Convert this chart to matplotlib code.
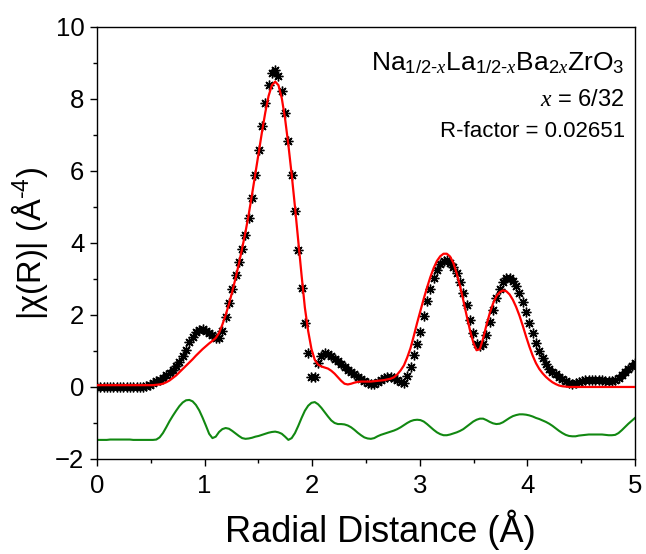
import numpy as np
import matplotlib
matplotlib.use("Agg")
import matplotlib.pyplot as plt
from matplotlib.ticker import MultipleLocator

plt.rcParams['font.family'] = ['Liberation Sans', 'DejaVu Sans']
plt.rcParams['mathtext.fontset'] = 'custom'
plt.rcParams['mathtext.rm'] = 'Liberation Sans'
plt.rcParams['mathtext.it'] = 'Liberation Serif:italic'
plt.rcParams['mathtext.bf'] = 'Liberation Sans:bold'

# radial grid (0 .. 5 Angstrom, 164 samples)
n_points = 164
r_min, r_max = 0.0, 5.0

data_vals = [
    0.00, 0.00, 0.00, 0.00, 0.00, 0.00, 0.00, 0.00, 0.00, 0.00,
    0.00, 0.00, 0.00, 0.00, 0.01, 0.03, 0.06, 0.11, 0.16, 0.20,
    0.26, 0.32, 0.40, 0.48, 0.57, 0.68, 0.86, 1.03, 1.24, 1.40,
    1.52, 1.58, 1.60, 1.56, 1.50, 1.43, 1.36, 1.35, 1.55, 1.93,
    2.32, 2.71, 3.12, 3.47, 3.82, 4.22, 4.70, 5.25, 5.90, 6.58,
    7.25, 7.88, 8.38, 8.72, 8.79, 8.63, 8.22, 7.62, 6.82, 5.88,
    4.88, 3.80, 2.76, 1.79, 0.95, 0.29, 0.27, 0.66, 0.86, 0.95,
    0.92, 0.86, 0.78, 0.71, 0.63, 0.55, 0.48, 0.41, 0.35, 0.29,
    0.23, 0.17, 0.12, 0.07, 0.08, 0.14, 0.20, 0.25, 0.28, 0.27,
    0.24, 0.20, 0.14, 0.12, 0.30, 0.56, 0.88, 1.18, 1.52, 1.98,
    2.39, 2.72, 3.02, 3.25, 3.42, 3.51, 3.53, 3.44, 3.34, 3.17,
    2.92, 2.62, 2.27, 1.87, 1.50, 1.20, 1.13, 1.20, 1.43, 1.80,
    2.15, 2.47, 2.72, 2.92, 3.02, 3.02, 2.94, 2.80, 2.62, 2.36,
    2.07, 1.78, 1.50, 1.23, 1.01, 0.81, 0.64, 0.50, 0.41, 0.35,
    0.29, 0.23, 0.17, 0.12, 0.09, 0.10, 0.13, 0.16, 0.18, 0.19,
    0.19, 0.19, 0.19, 0.18, 0.17, 0.16, 0.16, 0.18, 0.24, 0.32,
    0.42, 0.50, 0.58, 0.66,
]

fit_vals = [
    0.05, 0.05, 0.05, 0.05, 0.05, 0.05, 0.05, 0.05, 0.05, 0.05,
    0.05, 0.05, 0.05, 0.05, 0.05, 0.05, 0.05, 0.05, 0.06, 0.07,
    0.09, 0.13, 0.18, 0.25, 0.32, 0.41, 0.50, 0.59, 0.68, 0.77,
    0.87, 0.96, 1.05, 1.13, 1.21, 1.28, 1.36, 1.50, 1.73, 2.00,
    2.30, 2.65, 3.02, 3.42, 3.85, 4.30, 4.80, 5.35, 5.92, 6.50,
    7.08, 7.62, 8.08, 8.38, 8.48, 8.38, 8.02, 7.45, 6.72, 5.90,
    5.00, 4.05, 3.10, 2.20, 1.55, 1.05, 0.75, 0.62, 0.57, 0.54,
    0.51, 0.45, 0.37, 0.27, 0.17, 0.09, 0.07, 0.09, 0.12, 0.14,
    0.15, 0.15, 0.15, 0.15, 0.16, 0.17, 0.18, 0.19, 0.21, 0.23,
    0.27, 0.35, 0.46, 0.60, 0.82, 1.08, 1.42, 1.78, 2.12, 2.45,
    2.76, 3.05, 3.30, 3.50, 3.63, 3.70, 3.70, 3.62, 3.44, 3.15,
    2.80, 2.40, 1.98, 1.58, 1.24, 1.02, 1.05, 1.35, 1.72, 2.05,
    2.32, 2.52, 2.63, 2.68, 2.66, 2.57, 2.42, 2.22, 1.98, 1.70,
    1.40, 1.12, 0.87, 0.66, 0.50, 0.38, 0.28, 0.20, 0.13, 0.08,
    0.04, 0.02, 0.01, 0.00, 0.00, 0.00, 0.00, 0.00, 0.00, 0.00,
    0.00, 0.00, 0.00, 0.00, 0.00, 0.00, 0.00, 0.00, 0.00, 0.00,
    0.00, 0.00, 0.00, 0.00,
]

residual_vals = [
    -1.47, -1.47, -1.47, -1.47, -1.46, -1.46, -1.46, -1.46, -1.46, -1.46,
    -1.46, -1.47, -1.47, -1.47, -1.47, -1.47, -1.47, -1.47, -1.46, -1.40,
    -1.28, -1.12, -0.95, -0.80, -0.66, -0.53, -0.43, -0.37, -0.36, -0.40,
    -0.50, -0.65, -0.85, -1.07, -1.30, -1.42, -1.38, -1.25, -1.17, -1.14,
    -1.16, -1.22, -1.29, -1.36, -1.42, -1.44, -1.43, -1.41, -1.38, -1.36,
    -1.33, -1.30, -1.27, -1.25, -1.24, -1.26, -1.30, -1.38, -1.47, -1.42,
    -1.28, -1.08, -0.86, -0.66, -0.52, -0.44, -0.42, -0.48, -0.58, -0.70,
    -0.82, -0.93, -1.00, -1.03, -1.03, -1.04, -1.07, -1.12, -1.19, -1.27,
    -1.34, -1.40, -1.43, -1.44, -1.42, -1.37, -1.33, -1.30, -1.27, -1.24,
    -1.21, -1.17, -1.12, -1.06, -1.00, -0.95, -0.92, -0.91, -0.92, -0.96,
    -1.03, -1.11, -1.19, -1.26, -1.31, -1.34, -1.34, -1.32, -1.29, -1.26,
    -1.22, -1.17, -1.10, -1.03, -0.96, -0.91, -0.88, -0.88, -0.92, -0.97,
    -1.01, -1.03, -1.02, -0.98, -0.92, -0.86, -0.81, -0.78, -0.76, -0.76,
    -0.77, -0.79, -0.82, -0.86, -0.89, -0.93, -0.97, -1.02, -1.08, -1.15,
    -1.22, -1.28, -1.33, -1.36, -1.37, -1.37, -1.35, -1.34, -1.33, -1.32,
    -1.32, -1.32, -1.32, -1.32, -1.33, -1.34, -1.34, -1.33, -1.28, -1.20,
    -1.11, -1.02, -0.94, -0.86,
]

x_ticks = [0, 1, 2, 3, 4, 5]
y_ticks = [-2, 0, 2, 4, 6, 8, 10]

formula_text = r"Na$_{1/2\text{-}\mathit{x}}$La$_{1/2\text{-}\mathit{x}}$Ba$_{2\mathit{x}}$ZrO$_{3}$"
x_text = r"$\mathit{x}$ = 6/32"
rfactor_text = "R-factor = 0.02651"

R = np.linspace(r_min, r_max, n_points)

fig = plt.figure(figsize=(6.46, 5.54), dpi=100)
ax = fig.add_axes([0.150, 0.1715, 0.833, 0.780])

ax.plot(R, residual_vals, color='#118811', lw=1.5, zorder=2)
ax.plot(R, data_vals, linestyle='none', marker=(8, 2, 0), markersize=7,
        markeredgewidth=1.0, color='black', zorder=3)
ax.plot(R, fit_vals, color='#ff0000', lw=1.6, zorder=4)

ax.set_xlim(0, 5)
ax.set_ylim(-2, 10)
ax.set_xticks(x_ticks)
ax.set_yticks(y_ticks)
ax.xaxis.set_minor_locator(MultipleLocator(0.5))
ax.yaxis.set_minor_locator(MultipleLocator(1))
ax.tick_params(which='major', direction='out', length=5, width=1,
               labelsize=18.5, top=False, right=False)
ax.tick_params(axis='x', which='major', pad=6)
ax.tick_params(axis='y', which='major', pad=4)
ax.tick_params(which='minor', direction='out', length=3, width=1,
               top=False, right=False)
for s in ax.spines.values():
    s.set_linewidth(1.0)

ax.set_xlabel("Radial Distance (Å)", fontsize=26, labelpad=8)
ax.xaxis.set_label_coords(0.527, -0.118)
ax.set_ylabel(r"|χ(R)| (Å$^{\text{-}4}$)", fontsize=23.5, labelpad=4)

ax.text(0.981, 0.900, formula_text, transform=ax.transAxes, ha='right',
        va='baseline', fontsize=19)
ax.text(0.981, 0.817, x_text, transform=ax.transAxes, ha='right',
        va='baseline', fontsize=17)
ax.text(0.981, 0.745, rfactor_text, transform=ax.transAxes, ha='right',
        va='baseline', fontsize=16)

fig.savefig("out.png", dpi=100)
